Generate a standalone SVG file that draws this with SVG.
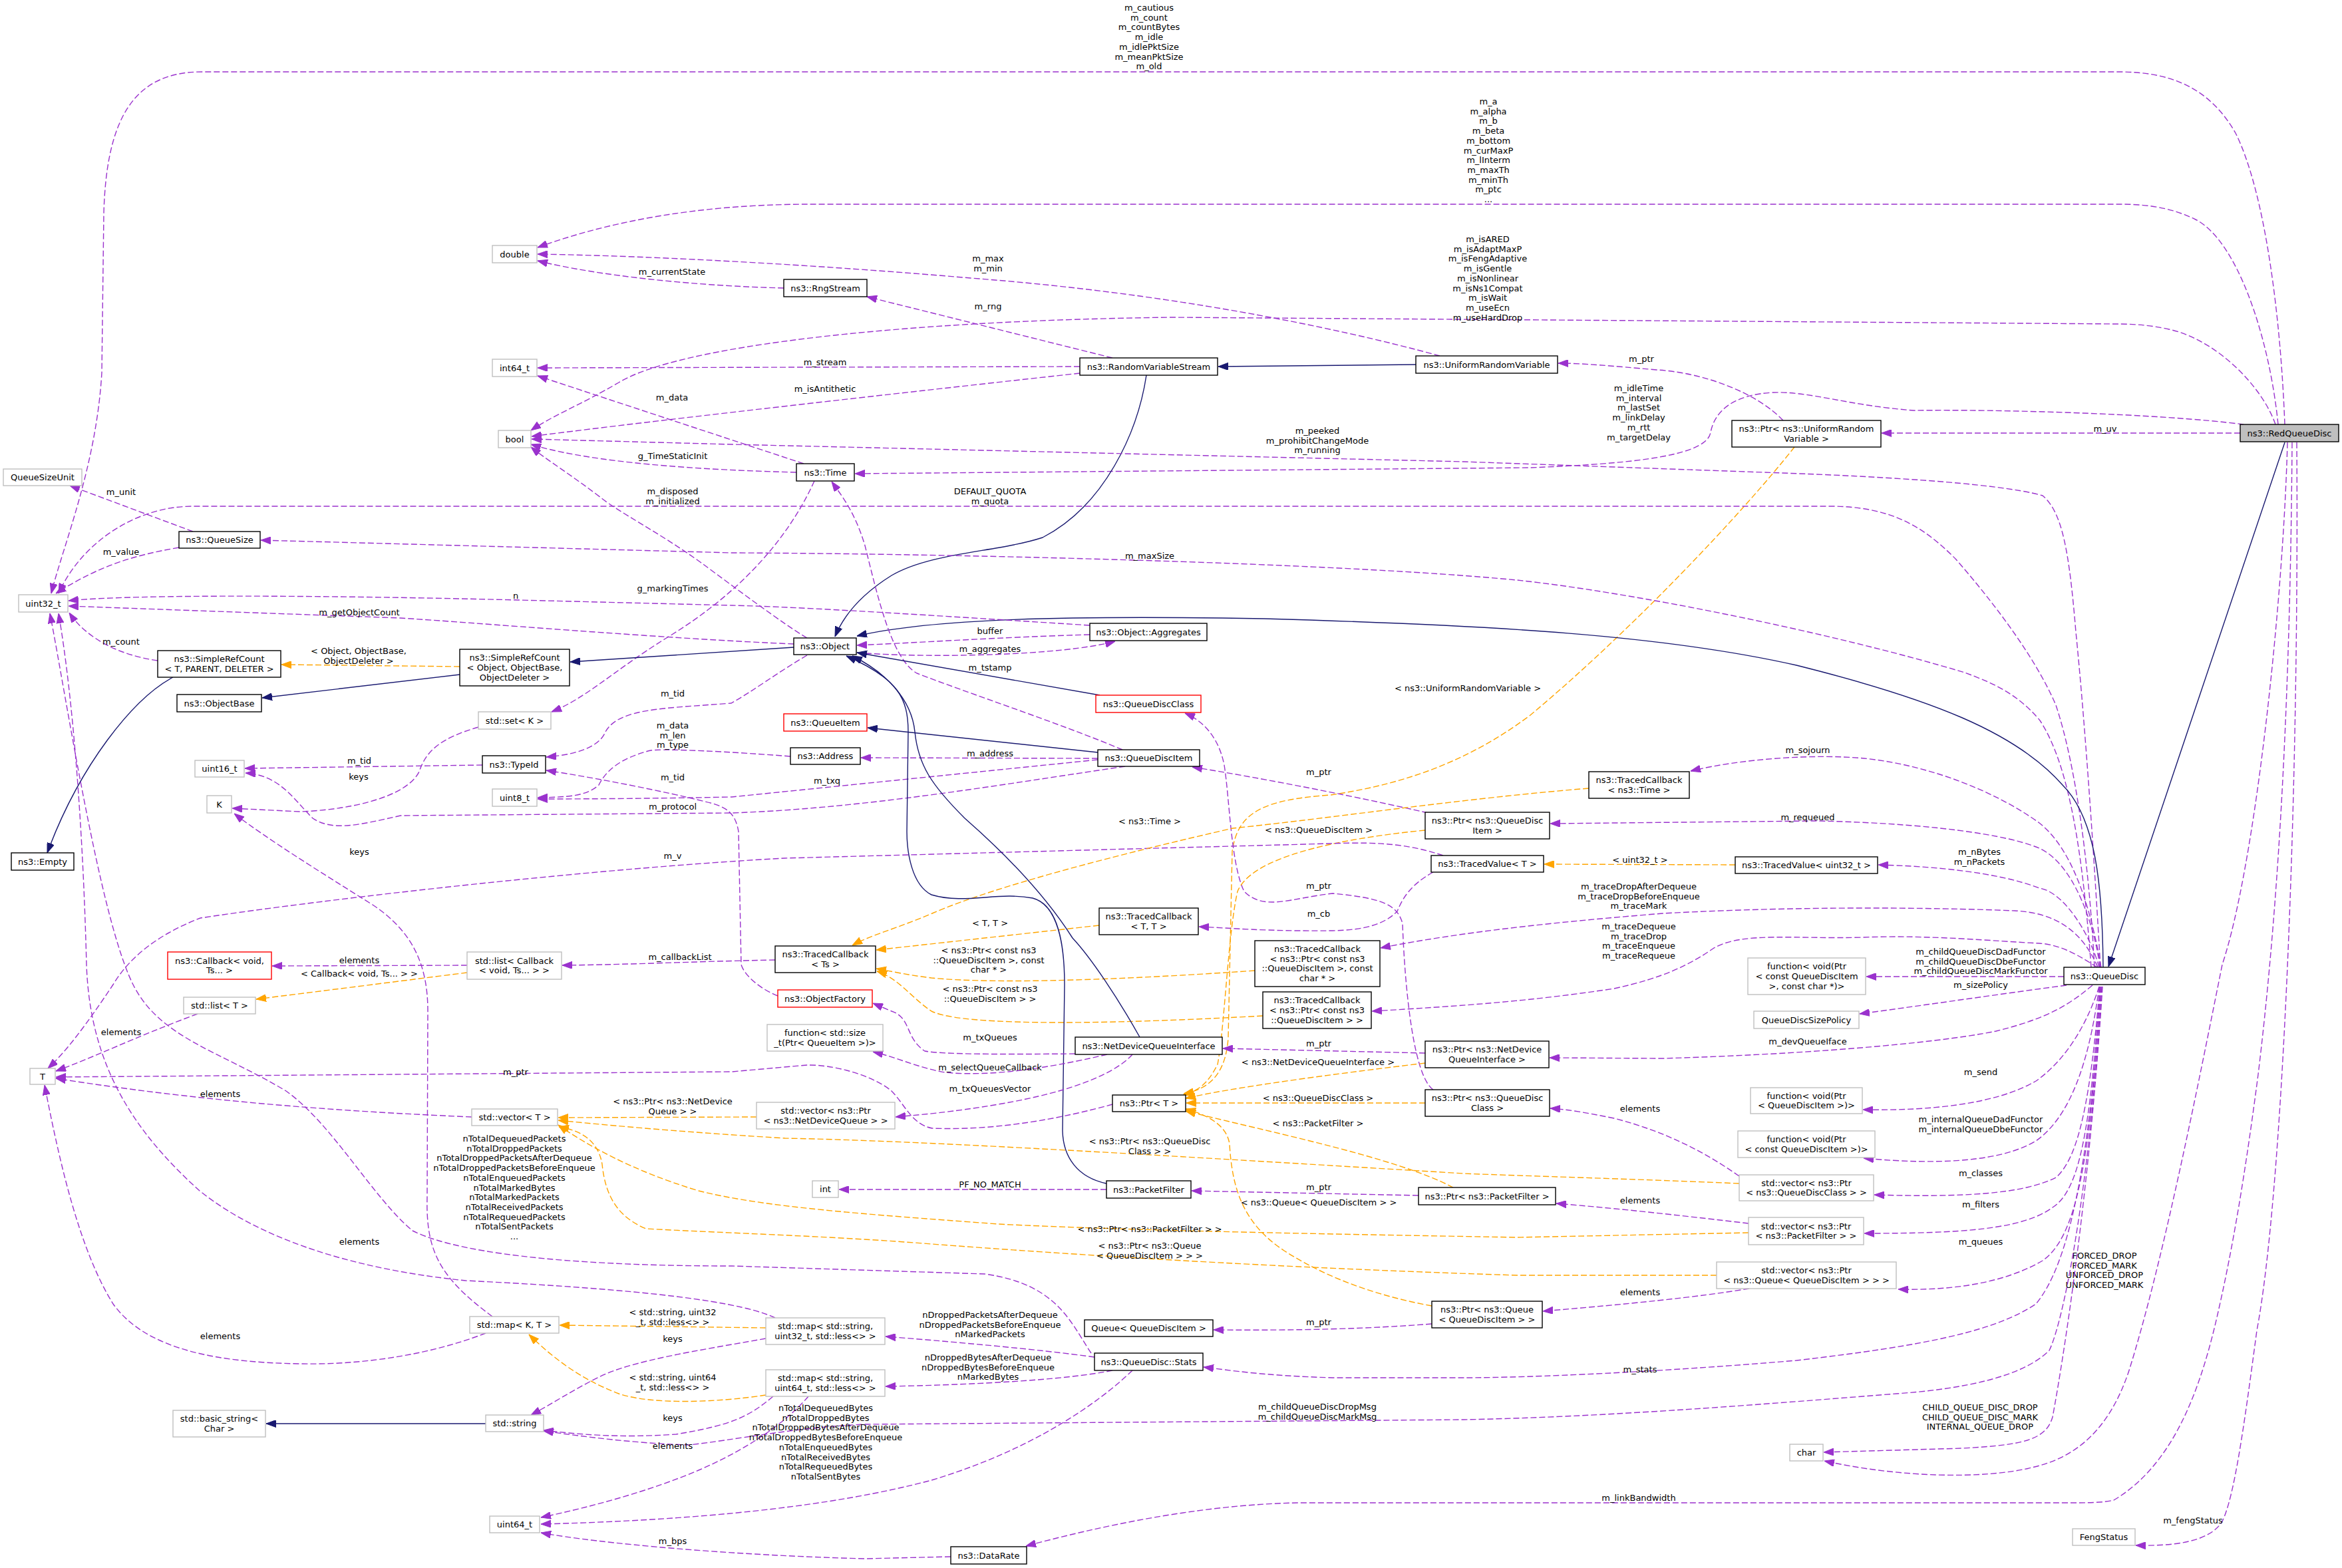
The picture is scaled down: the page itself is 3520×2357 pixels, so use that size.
<svg xmlns="http://www.w3.org/2000/svg" width="3520" height="2357" viewBox="0 0 3520 2357">
<style>
text{font-family:"DejaVu Sans","Liberation Sans",sans-serif;font-size:13px;text-anchor:middle;fill:#000}
.node rect{fill:#fff;stroke-width:1.4}
.nb rect{stroke:#000}
.ng rect{stroke:#bfbfbf}
.nr rect{stroke:#f00}
.nh rect{fill:#bfbfbf;stroke:#000}
#edges path{fill:none;stroke-width:1.4}
#edges .p{stroke:#9a32cd;stroke-dasharray:9,4;marker-end:url(#mp)}
#edges .o{stroke:#ffa500;stroke-dasharray:9,4;marker-end:url(#mo)}
#edges .s{stroke:#191970;marker-end:url(#ms)}
</style>
<defs>
<marker id="mp" viewBox="0 0 15 11" refX="15" refY="5.5" markerWidth="15" markerHeight="11" markerUnits="userSpaceOnUse" orient="auto"><path d="M0,0L15,5.5L0,11z" fill="#9a32cd" stroke="#9a32cd" stroke-dasharray="none"/></marker>
<marker id="mo" viewBox="0 0 15 11" refX="15" refY="5.5" markerWidth="15" markerHeight="11" markerUnits="userSpaceOnUse" orient="auto"><path d="M0,0L15,5.5L0,11z" fill="#ffa500" stroke="#ffa500" stroke-dasharray="none"/></marker>
<marker id="ms" viewBox="0 0 15 11" refX="15" refY="5.5" markerWidth="15" markerHeight="11" markerUnits="userSpaceOnUse" orient="auto"><path d="M0,0L15,5.5L0,11z" fill="#191970" stroke="#191970"/></marker>
</defs>
<rect x="0" y="0" width="3520" height="2357" fill="#fff"/>
<g id="edges">
<!-- RedQueueDisc edges -->
<path class="p" d="M3434,638 C3428,480 3405,290 3360,200 C3320,130 3260,108 3185,108 L303,108 C200,108 160,180 156,320 L153,560 C145,700 95,820 77,892"/>
<text x="1727" y="16">m_cautious</text><text x="1727" y="30.7">m_count</text><text x="1727" y="45.4">m_countBytes</text><text x="1727" y="60.1">m_idle</text><text x="1727" y="74.8">m_idlePktSize</text><text x="1727" y="89.5">m_meanPktSize</text><text x="1727" y="104.2">m_old</text>
<path class="p" d="M3424,638 C3410,500 3360,360 3300,330 C3260,310 3220,307 3185,307 L1218,307 C1100,307 950,320 808,372"/>
<text x="2237" y="157">m_a</text><text x="2237" y="171.7">m_alpha</text><text x="2237" y="186.4">m_b</text><text x="2237" y="201.1">m_beta</text><text x="2237" y="215.8">m_bottom</text><text x="2237" y="230.5">m_curMaxP</text><text x="2237" y="245.2">m_lInterm</text><text x="2237" y="259.9">m_maxTh</text><text x="2237" y="274.6">m_minTh</text><text x="2237" y="289.3">m_ptc</text><text x="2237" y="304">...</text>
<path class="p" d="M3420,638 C3400,580 3330,510 3260,495 C3230,488 3200,487 3185,487 L1760,477 C1350,482 1020,520 930,575 C870,610 830,625 798,647"/>
<text x="2236" y="364">m_isARED</text><text x="2236" y="378.7">m_isAdaptMaxP</text><text x="2236" y="393.4">m_isFengAdaptive</text><text x="2236" y="408.1">m_isGentle</text><text x="2236" y="422.8">m_isNonlinear</text><text x="2236" y="437.5">m_isNs1Compat</text><text x="2236" y="452.2">m_isWait</text><text x="2236" y="466.9">m_useEcn</text><text x="2236" y="481.6">m_useHardDrop</text>
<path class="p" d="M3367,651 L2828,651"/>
<text x="3164" y="649">m_uv</text>
<path class="p" d="M3372,638 C3250,622 3000,615 2877,617 C2780,610 2720,588 2665,590 C2605,593 2577,618 2571,650 C2565,690 2420,698 2300,703 L1285,712"/>
<text x="2463" y="588">m_idleTime</text><text x="2463" y="602.7">m_interval</text><text x="2463" y="617.4">m_lastSet</text><text x="2463" y="632.1">m_linkDelay</text><text x="2463" y="646.8">m_rtt</text><text x="2463" y="661.5">m_targetDelay</text>
<path class="s" d="M3434,665 L3169,1453"/>
<path class="p" d="M3438,665 C3432,900 3390,1300 3340,1450 C3300,1650 3250,1900 3200,2060 C3170,2150 3120,2190 3058,2205 C2980,2225 2850,2220 2742,2196"/>
<text x="3163" y="1892">FORCED_DROP</text><text x="3163" y="1906.7">FORCED_MARK</text><text x="3163" y="1921.4">UNFORCED_DROP</text><text x="3163" y="1936.1">UNFORCED_MARK</text>
<path class="p" d="M3445,665 C3442,1100 3420,1400 3394,1615 C3370,1800 3350,1900 3335,1967 C3310,2080 3270,2200 3177,2255 C3160,2259 3140,2259 3100,2259 L1950,2259 C1800,2262 1650,2295 1542,2324"/>
<text x="2463" y="2256">m_linkBandwidth</text>
<path class="p" d="M3452,665 C3456,1200 3430,1800 3392,2000 C3372,2150 3358,2250 3340,2287 C3320,2320 3260,2324 3210,2323"/>
<text x="3296" y="2290">m_fengStatus</text>
<!-- UniformRandomVariable -->
<path class="p" d="M2680,632 C2640,590 2560,560 2490,556 C2420,550 2380,546 2342,546"/>
<text x="2467" y="544">m_ptr</text>
<path class="o" d="M2697,672 C2620,770 2450,950 2300,1075 C2200,1150 2100,1180 2000,1195 C1900,1202 1860,1220 1852,1280 L1846,1560 C1842,1620 1812,1638 1779,1644"/>
<text x="2206" y="1039">&lt; ns3::UniformRandomVariable &gt;</text>
<path class="s" d="M2128,548 L1831,551"/>
<path class="p" d="M2164,535 C2000,490 1750,440 1459,418 C1250,400 1000,385 808,382"/>
<text x="1485" y="393">m_max</text><text x="1485" y="407.7">m_min</text>
<path class="p" d="M1178,433 C1050,430 900,415 808,392"/>
<text x="1010" y="413">m_currentState</text>
<path class="p" d="M1672,538 L1303,446"/>
<text x="1485" y="465">m_rng</text>
<path class="p" d="M1623,551 L808,553"/>
<text x="1240" y="549">m_stream</text>
<path class="p" d="M1623,561 C1450,580 1000,630 799,656"/>
<text x="1240" y="589">m_isAntithetic</text>
<path class="s" d="M1723,564 C1710,650 1660,760 1567,808 C1500,830 1400,830 1340,865 C1300,890 1270,920 1255,957"/>
<!-- Time -->
<path class="p" d="M1208,697 L808,565"/>
<text x="1010" y="602">m_data</text>
<path class="p" d="M1197,710 C1000,705 870,690 798,668"/>
<text x="1011" y="690">g_TimeStaticInit</text>
<path class="p" d="M1224,723 C1180,820 1100,900 1000,960 C920,1010 880,1050 829,1070"/>
<text x="1011" y="889">g_markingTimes</text>
<!-- QueueDisc top -->
<path class="p" d="M3148,1454 C3140,1300 3120,1150 3090,1060 C3060,990 3000,910 2940,841 C2890,790 2840,761 2750,761 L290,761 C200,761 120,820 88,892"/>
<text x="1488" y="743">DEFAULT_QUOTA</text><text x="1488" y="757.7">m_quota</text>
<path class="p" d="M3157,1454 C3148,1300 3135,1100 3120,950 C3110,830 3100,770 3070,745 C3000,725 2800,715 2651,710 L2200,694 L1100,668 L799,660"/>
<text x="1980" y="652">m_peeked</text><text x="1980" y="666.7">m_prohibitChangeMode</text><text x="1980" y="681.4">m_running</text>
<path class="p" d="M3143,1454 C3130,1280 3110,1150 3066,1083 C3030,1040 2990,1025 2953,1011 C2750,950 2450,890 2280,872 C2000,845 1400,832 1100,831 L392,812"/>
<text x="1728" y="840">m_maxSize</text>
<path class="s" d="M3161,1454 C3160,1330 3150,1230 3100,1180 C3030,1100 2900,1050 2700,1000 C2500,955 2250,940 1900,930 C1600,925 1400,930 1288,956"/>
<path class="p" d="M3158,1454 C3145,1380 3120,1280 3065,1237 C3000,1190 2900,1150 2802,1140 C2730,1133 2620,1140 2541,1159"/>
<text x="2717" y="1132">m_sojourn</text>
<path class="p" d="M3156,1454 C3150,1400 3120,1300 3065,1275 C3000,1248 2850,1236 2727,1234 L2330,1238"/>
<text x="2717" y="1233">m_requeued</text>
<path class="p" d="M3155,1454 C3140,1400 3100,1340 3065,1335 C3000,1310 2900,1302 2823,1300"/>
<text x="2975" y="1285">m_nBytes</text><text x="2975" y="1299.7">m_nPackets</text>
<path class="p" d="M3153,1454 C3130,1400 3090,1372 3028,1369 C2900,1364 2700,1362 2500,1373 C2350,1385 2200,1400 2075,1425"/>
<text x="2463" y="1337">m_traceDropAfterDequeue</text><text x="2463" y="1351.7">m_traceDropBeforeEnqueue</text><text x="2463" y="1366.4">m_traceMark</text>
<path class="p" d="M3152,1454 C3130,1440 3100,1420 3065,1418 C3000,1415 2900,1405 2800,1409 C2700,1412 2620,1400 2576,1425 C2540,1450 2500,1470 2426,1486 C2300,1505 2200,1512 2062,1520"/>
<text x="2463" y="1397">m_traceDequeue</text><text x="2463" y="1411.7">m_traceDrop</text><text x="2463" y="1426.4">m_traceEnqueue</text><text x="2463" y="1441.1">m_traceRequeue</text>
<path class="p" d="M3102,1468 L2805,1468"/>
<text x="2977" y="1435">m_childQueueDiscDadFunctor</text><text x="2977" y="1449.7">m_childQueueDiscDbeFunctor</text><text x="2977" y="1464.4">m_childQueueDiscMarkFunctor</text>
<path class="p" d="M3106,1481 C3000,1495 2900,1510 2795,1524"/>
<text x="2977" y="1485">m_sizePolicy</text>
<path class="p" d="M3145,1481 C3110,1510 3080,1530 3000,1550 C2900,1570 2700,1585 2500,1591 L2329,1590"/>
<text x="2717" y="1570">m_devQueueIface</text>
<path class="p" d="M3155,1483 C3140,1530 3110,1590 3060,1625 C3000,1660 2900,1670 2800,1668"/>
<text x="2977" y="1616">m_send</text>
<path class="p" d="M3155,1483 C3140,1600 3110,1680 3060,1715 C3010,1745 2920,1752 2801,1741"/>
<text x="2977" y="1687">m_internalQueueDadFunctor</text><text x="2977" y="1701.7">m_internalQueueDbeFunctor</text>
<path class="p" d="M3156,1483 C3142,1650 3125,1740 3090,1770 C3040,1795 2950,1800 2817,1796"/>
<text x="2977" y="1768">m_classes</text>
<path class="p" d="M3156,1483 C3142,1700 3125,1790 3085,1815 C3040,1848 2950,1854 2802,1854"/>
<text x="2977" y="1815">m_filters</text>
<path class="p" d="M3157,1483 C3142,1750 3120,1860 3070,1895 C3010,1930 2930,1940 2853,1938"/>
<text x="2977" y="1871">m_queues</text>
<path class="p" d="M3158,1483 C3140,1750 3110,1900 3060,1960 C3000,2000 2900,2022 2700,2045 C2500,2062 2300,2071 2200,2071 L2003,2071 C1900,2068 1850,2060 1809,2055"/>
<text x="2465" y="2063">m_stats</text>
<path class="p" d="M3159,1483 C3140,1800 3100,1990 3080,2030 C3040,2070 2950,2088 2850,2095 C2600,2115 2400,2130 2200,2134 L1300,2141 C1200,2145 1100,2165 1036,2172 C960,2170 880,2160 817,2151"/>
<text x="1980" y="2119">m_childQueueDiscDropMsg</text><text x="1980" y="2133.7">m_childQueueDiscMarkMsg</text>
<path class="p" d="M3160,1483 C3140,1800 3100,2050 3085,2130 C3075,2165 3040,2172 2950,2177 L2741,2183"/>
<text x="2976" y="2120">CHILD_QUEUE_DISC_DROP</text><text x="2976" y="2134.7">CHILD_QUEUE_DISC_MARK</text><text x="2976" y="2149.4">INTERNAL_QUEUE_DROP</text>
<!-- Object -->
<path class="p" d="M1213,959 C1180,940 1100,880 1054,846 C990,800 930,770 903,748 C860,715 820,690 798,672"/>
<text x="1011" y="743">m_disposed</text><text x="1011" y="757.7">m_initialized</text>
<path class="p" d="M1193,968 C1000,960 700,935 602,929 L103,911"/>
<text x="540" y="925">m_getObjectCount</text>
<path class="p" d="M1288,981 C1400,990 1600,985 1676,964"/>
<text x="1488" y="980">m_aggregates</text>
<path class="p" d="M1638,954 C1500,958 1400,965 1288,970"/>
<text x="1488" y="953">buffer</text>
<path class="p" d="M1638,940 C1400,925 1200,912 1100,910 L780,902 C500,895 200,893 103,903"/>
<text x="775" y="900">n</text>
<path class="s" d="M1193,973 L857,995"/>
<path class="p" d="M1213,985 C1170,1010 1130,1040 1099,1057 C1000,1065 930,1064 910,1100 C900,1125 860,1135 821,1138"/>
<text x="1011" y="1047">m_tid</text>
<path class="o" d="M691,1002 L423,999"/>
<text x="539" y="983">&lt; Object, ObjectBase,</text><text x="539" y="997.7">ObjectDeleter &gt;</text>
<path class="s" d="M691,1014 L394,1049"/>
<path class="p" d="M237,993 C180,985 130,960 104,921"/>
<text x="182" y="969">m_count</text>
<path class="s" d="M260,1018 C200,1050 120,1150 71,1282"/>
<path class="p" d="M290,799 L105,730"/>
<text x="182" y="744">m_unit</text>
<path class="p" d="M269,823 C200,835 150,850 84,892"/>
<text x="182" y="834">m_value</text>
<path class="p" d="M719,1093 C660,1110 640,1130 630,1160 C610,1200 520,1218 450,1220 L349,1215"/>
<text x="539" y="1172">keys</text>
<path class="p" d="M725,1150 L368,1155"/>
<text x="540" y="1148">m_tid</text>
<!-- QueueDiscItem / Address -->
<path class="p" d="M1188,1137 C1100,1130 1000,1125 978,1128 C930,1140 910,1160 900,1180 C880,1198 850,1198 808,1199"/>
<text x="1011" y="1095">m_data</text><text x="1011" y="1109.7">m_len</text><text x="1011" y="1124.4">m_type</text>
<path class="p" d="M1650,1142 L1100,1198 C1000,1200 900,1201 808,1201"/>
<text x="1243" y="1178">m_txq</text>
<path class="p" d="M1691,1152 C1500,1180 1300,1215 1100,1222 L602,1226 C540,1240 500,1250 470,1230 C440,1200 420,1165 369,1162"/>
<text x="1011" y="1217">m_protocol</text>
<path class="p" d="M1650,1140 L1294,1139"/>
<text x="1488" y="1137">m_address</text>
<path class="s" d="M1650,1131 L1304,1094"/>
<path class="p" d="M1687,1127 C1600,1090 1450,1040 1378,1012 C1340,990 1320,900 1300,820 C1285,770 1265,745 1250,724"/>
<text x="1488" y="1008">m_tstamp</text>
<path class="s" d="M1653,1045 L1288,981"/>
<path class="p" d="M2154,1638 C2120,1614 2110,1450 2108,1388 C2100,1360 2078,1350 2003,1343 C1940,1350 1900,1370 1870,1340 C1850,1300 1848,1200 1840,1150 C1830,1100 1800,1080 1781,1072"/>
<text x="1982" y="1336">m_ptr</text>
<path class="p" d="M2146,1222 C2050,1200 1900,1170 1792,1153"/>
<text x="1982" y="1165">m_ptr</text>
<path class="o" d="M2142,1248 C2000,1262 1880,1290 1860,1340 C1846,1400 1840,1550 1830,1600 C1815,1630 1800,1640 1778,1646"/>
<text x="1982" y="1252">&lt; ns3::QueueDiscItem &gt;</text>
<!-- TracedValue -->
<path class="p" d="M2169,1286 C2120,1270 2080,1265 2000,1268 L1180,1290 C900,1305 500,1350 301,1380 C250,1400 200,1430 170,1480 C130,1540 100,1580 72,1606"/>
<text x="1011" y="1291">m_v</text>
<path class="p" d="M2154,1311 C2120,1330 2108,1350 2100,1370 C2080,1390 2050,1398 2003,1399 C1900,1400 1850,1395 1802,1393"/>
<text x="1982" y="1378">m_cb</text>
<path class="o" d="M2608,1300 L2321,1299"/>
<text x="2465" y="1297">&lt; uint32_t &gt;</text>
<!-- TracedCallback -->
<path class="o" d="M2388,1185 C2200,1200 2000,1230 1853,1245 C1700,1280 1500,1330 1401,1373 C1350,1395 1310,1405 1281,1421"/>
<text x="1728" y="1239">&lt; ns3::Time &gt;</text>
<path class="o" d="M1652,1391 L1317,1428"/>
<text x="1488" y="1392">&lt; T, T &gt;</text>
<path class="o" d="M1886,1459 C1700,1472 1500,1480 1400,1470 C1360,1465 1340,1460 1317,1456"/>
<text x="1486" y="1433">&lt; ns3::Ptr&lt; const ns3</text><text x="1486" y="1447.7">::QueueDiscItem &gt;, const</text><text x="1486" y="1462.4">char * &gt;</text>
<path class="o" d="M1898,1527 C1700,1538 1450,1545 1400,1520 C1370,1500 1350,1470 1318,1460"/>
<text x="1488" y="1491">&lt; ns3::Ptr&lt; const ns3</text><text x="1488" y="1505.7">::QueueDiscItem &gt; &gt;</text>
<path class="p" d="M1165,1443 C1050,1445 950,1450 845,1451"/>
<text x="1022" y="1443">m_callbackList</text>
<path class="p" d="M702,1451 L409,1452"/>
<text x="540" y="1448">elements</text>
<path class="o" d="M702,1462 C600,1475 480,1490 385,1502"/>
<text x="540" y="1468">&lt; Callback&lt; void, Ts... &gt; &gt;</text>
<path class="p" d="M297,1524 C200,1560 140,1590 84,1610"/>
<text x="182" y="1556">elements</text>
<path class="p" d="M709,1679 C500,1670 300,1655 84,1621"/>
<text x="331" y="1649">elements</text>
<path class="p" d="M1672,1660 C1600,1680 1500,1700 1401,1696 C1370,1690 1360,1660 1340,1640 C1310,1615 1250,1600 1213,1601 L1100,1611 L84,1619"/>
<text x="775" y="1616">m_ptr</text>
<!-- NetDeviceQueueInterface / PacketFilter -->
<path class="s" d="M1713,1559 C1680,1500 1640,1440 1612,1410 C1580,1360 1530,1300 1450,1230 C1400,1180 1380,1150 1375,1100 C1370,1050 1330,1010 1281,986"/>
<path class="s" d="M1663,1779 C1620,1770 1598,1740 1597,1700 L1600,1480 C1600,1420 1590,1360 1552,1350 C1500,1340 1450,1360 1400,1345 C1370,1330 1363,1280 1363,1250 L1365,1100 C1365,1050 1350,1020 1272,986"/>
<path class="p" d="M1616,1584 C1500,1585 1420,1585 1390,1580 C1360,1560 1370,1530 1340,1520 L1312,1508"/>
<text x="1488" y="1564">m_txQueues</text>
<path class="p" d="M1664,1585 C1600,1600 1500,1620 1420,1612 C1380,1605 1350,1590 1312,1581"/>
<text x="1488" y="1609">m_selectQueueCallback</text>
<path class="p" d="M1702,1585 C1680,1610 1620,1640 1500,1660 C1430,1672 1380,1676 1346,1679"/>
<text x="1488" y="1641">m_txQueuesVector</text>
<path class="p" d="M1169,1497 C1150,1490 1120,1470 1114,1450 L1110,1250 C1105,1220 1090,1212 1060,1205 C1000,1190 900,1170 821,1158"/>
<text x="1011" y="1173">m_tid</text>
<path class="p" d="M2142,1583 L1838,1576"/>
<text x="1982" y="1573">m_ptr</text>
<path class="o" d="M2142,1598 C2000,1615 1850,1635 1782,1651"/>
<text x="1981" y="1601">&lt; ns3::NetDeviceQueueInterface &gt;</text>
<path class="o" d="M2142,1658 L1783,1658"/>
<text x="1981" y="1655">&lt; ns3::QueueDiscClass &gt;</text>
<path class="o" d="M1137,1679 L839,1680"/>
<text x="1011" y="1660">&lt; ns3::Ptr&lt; ns3::NetDevice</text><text x="1011" y="1674.7">Queue &gt; &gt;</text>
<path class="o" d="M2614,1779 C2450,1772 2300,1768 2200,1764 C1800,1740 1400,1715 1180,1711 C1000,1700 900,1690 839,1684"/>
<text x="1728" y="1720">&lt; ns3::Ptr&lt; ns3::QueueDisc</text><text x="1728" y="1734.7">Class &gt; &gt;</text>
<path class="p" d="M2614,1768 C2560,1730 2500,1700 2426,1681 C2380,1672 2360,1668 2330,1666"/>
<text x="2465" y="1671">elements</text>
<path class="o" d="M2628,1853 L2280,1860 C2000,1855 1700,1850 1500,1840 C1300,1825 1150,1815 1050,1790 C950,1760 880,1720 839,1691"/>
<text x="1728" y="1852">&lt; ns3::Ptr&lt; ns3::PacketFilter &gt; &gt;</text>
<path class="p" d="M2628,1839 C2550,1830 2450,1818 2339,1809"/>
<text x="2465" y="1809">elements</text>
<path class="o" d="M2580,1917 L2280,1917 C1900,1905 1600,1885 1400,1870 C1250,1858 1100,1854 971,1847 C930,1830 910,1800 905,1750 C900,1720 880,1700 840,1694"/>
<text x="1728" y="1877">&lt; ns3::Ptr&lt; ns3::Queue</text><text x="1728" y="1891.7">&lt; QueueDiscItem &gt; &gt; &gt;</text>
<path class="p" d="M2629,1937 C2550,1950 2450,1960 2319,1971"/>
<text x="2465" y="1947">elements</text>
<path class="p" d="M2152,1990 C2050,1998 1950,2000 1824,1999"/>
<text x="1982" y="1992">m_ptr</text>
<path class="o" d="M2152,1963 C2080,1950 2000,1925 1930,1880 C1870,1840 1852,1790 1848,1720 C1844,1690 1812,1675 1782,1667"/>
<text x="1982" y="1812">&lt; ns3::Queue&lt; QueueDiscItem &gt; &gt;</text>
<path class="p" d="M2132,1797 L1791,1790"/>
<text x="1982" y="1789">m_ptr</text>
<path class="o" d="M2184,1785 C2100,1740 1900,1700 1782,1670"/>
<text x="1981" y="1693">&lt; ns3::PacketFilter &gt;</text>
<path class="p" d="M1663,1788 L1261,1788"/>
<text x="1488" y="1785">PF_NO_MATCH</text>
<!-- Stats and maps -->
<path class="p" d="M1640,2034 C1610,1990 1590,1930 1480,1915 L1100,1903 C900,1903 700,1890 620,1850 C560,1800 500,1690 430,1640 C330,1580 240,1560 200,1480 C150,1380 100,1050 75,922"/>
<text x="773" y="1716">nTotalDequeuedPackets</text><text x="773" y="1730.7">nTotalDroppedPackets</text><text x="773" y="1745.4">nTotalDroppedPacketsAfterDequeue</text><text x="773" y="1760.1">nTotalDroppedPacketsBeforeEnqueue</text><text x="773" y="1774.8">nTotalEnqueuedPackets</text><text x="773" y="1789.5">nTotalMarkedBytes</text><text x="773" y="1804.2">nTotalMarkedPackets</text><text x="773" y="1818.9">nTotalReceivedPackets</text><text x="773" y="1833.6">nTotalRequeuedPackets</text><text x="773" y="1848.3">nTotalSentPackets</text><text x="773" y="1863">...</text>
<path class="p" d="M1165,1981 C1100,1950 900,1935 700,1925 C550,1910 400,1870 300,1790 C200,1700 135,1600 130,1450 C125,1250 110,1050 88,922"/>
<text x="540" y="1871">elements</text>
<path class="p" d="M740,1979 C660,1920 640,1880 642,1800 L643,1520 C643,1450 620,1400 560,1360 C480,1310 400,1260 352,1223"/>
<text x="540" y="1285">keys</text>
<path class="p" d="M730,2004 C650,2035 550,2052 450,2050 C330,2048 220,2030 170,1960 C120,1880 90,1750 67,1631"/>
<text x="331" y="2013">elements</text>
<path class="o" d="M1151,1996 L841,1992"/>
<text x="1011" y="1977">&lt; std::string, uint32</text><text x="1011" y="1991.7">_t, std::less&lt;&gt; &gt;</text>
<path class="p" d="M1151,2012 C1050,2030 950,2045 900,2070 C860,2090 830,2110 798,2127"/>
<text x="1011" y="2017">keys</text>
<path class="o" d="M1151,2097 C1080,2108 980,2112 930,2095 C870,2072 830,2040 795,2006"/>
<text x="1011" y="2075">&lt; std::string, uint64</text><text x="1011" y="2089.7">_t, std::less&lt;&gt; &gt;</text>
<path class="p" d="M1162,2099 C1125,2130 1100,2142 1016,2156 C930,2162 870,2156 817,2150"/>
<text x="1011" y="2136">keys</text>
<path class="p" d="M1215,2099 C1180,2140 1120,2180 1050,2210 C980,2240 890,2265 813,2281"/>
<text x="1011" y="2178">elements</text>
<path class="p" d="M1645,2040 C1560,2028 1420,2016 1331,2009"/>
<text x="1488" y="1981">nDroppedPacketsAfterDequeue</text><text x="1488" y="1995.7">nDroppedPacketsBeforeEnqueue</text><text x="1488" y="2010.4">nMarkedPackets</text>
<path class="p" d="M1672,2060 C1600,2075 1450,2082 1331,2084"/>
<text x="1485" y="2045">nDroppedBytesAfterDequeue</text><text x="1485" y="2059.7">nDroppedBytesBeforeEnqueue</text><text x="1485" y="2074.4">nMarkedBytes</text>
<path class="p" d="M1702,2060 C1650,2110 1550,2180 1400,2225 C1250,2265 1050,2285 813,2291"/>
<text x="1241" y="2121">nTotalDequeuedBytes</text><text x="1241" y="2135.7">nTotalDroppedBytes</text><text x="1241" y="2150.4">nTotalDroppedBytesAfterDequeue</text><text x="1241" y="2165.1">nTotalDroppedBytesBeforeEnqueue</text><text x="1241" y="2179.8">nTotalEnqueuedBytes</text><text x="1241" y="2194.5">nTotalReceivedBytes</text><text x="1241" y="2209.2">nTotalRequeuedBytes</text><text x="1241" y="2223.9">nTotalSentBytes</text>
<path class="p" d="M1429,2340 L1300,2343 C1100,2338 900,2320 813,2304"/>
<text x="1011" y="2321">m_bps</text>
<path class="s" d="M730,2140 L400,2140"/>
</g>
<g id="n_RedQueueDisc" class="node nh"><rect x="3367" y="638" width="148" height="26"/><text x="3441" y="655.5">ns3::RedQueueDisc</text></g>
<g id="n_QueueDisc" class="node nb"><rect x="3102" y="1454" width="122" height="26"/><text x="3163" y="1471.5">ns3::QueueDisc</text></g>
<g id="n_uint32" class="node ng"><rect x="28" y="894" width="74" height="26"/><text x="65" y="911.5">uint32_t</text></g>
<g id="n_double" class="node ng"><rect x="740" y="369" width="67" height="26"/><text x="773.5" y="386.5">double</text></g>
<g id="n_RngStream" class="node nb"><rect x="1178" y="420" width="125" height="26"/><text x="1240.5" y="437.5">ns3::RngStream</text></g>
<g id="n_int64" class="node ng"><rect x="740" y="540" width="67" height="26"/><text x="773.5" y="557.5">int64_t</text></g>
<g id="n_RVS" class="node nb"><rect x="1623" y="538" width="207" height="26"/><text x="1726.5" y="555.5">ns3::RandomVariableStream</text></g>
<g id="n_URV" class="node nb"><rect x="2128" y="535" width="213" height="26"/><text x="2234.5" y="552.5">ns3::UniformRandomVariable</text></g>
<g id="n_bool" class="node ng"><rect x="749" y="647" width="49" height="26"/><text x="773.5" y="664.5">bool</text></g>
<g id="n_Time" class="node nb"><rect x="1197" y="697" width="87" height="26"/><text x="1240.5" y="714.5">ns3::Time</text></g>
<g id="n_QueueSizeUnit" class="node ng"><rect x="5" y="705" width="118" height="25"/><text x="64" y="722">QueueSizeUnit</text></g>
<g id="n_QueueSize" class="node nb"><rect x="269" y="799" width="122" height="25"/><text x="330" y="816">ns3::QueueSize</text></g>
<g id="n_PtrURV" class="node nb"><rect x="2603" y="632" width="224" height="40"/><text x="2715" y="649.2">ns3::Ptr&lt; ns3::UniformRandom</text><text x="2715" y="663.9">Variable &gt;</text></g>
<g id="n_SRC_T" class="node nb"><rect x="237" y="978" width="185" height="40"/><text x="329.5" y="995.2">ns3::SimpleRefCount</text><text x="329.5" y="1009.9">&lt; T, PARENT, DELETER &gt;</text></g>
<g id="n_SRC_Obj" class="node nb"><rect x="691" y="976" width="165" height="55"/><text x="773.5" y="993.3">ns3::SimpleRefCount</text><text x="773.5" y="1008">&lt; Object, ObjectBase,</text><text x="773.5" y="1022.7">ObjectDeleter &gt;</text></g>
<g id="n_ObjectBase" class="node nb"><rect x="266" y="1044" width="127" height="26"/><text x="329.5" y="1061.5">ns3::ObjectBase</text></g>
<g id="n_Object" class="node nb"><rect x="1193" y="959" width="94" height="25"/><text x="1240" y="976">ns3::Object</text></g>
<g id="n_Aggregates" class="node nb"><rect x="1638" y="937" width="176" height="26"/><text x="1726" y="954.5">ns3::Object::Aggregates</text></g>
<g id="n_setK" class="node ng"><rect x="719" y="1070" width="109" height="26"/><text x="773.5" y="1087.5">std::set&lt; K &gt;</text></g>
<g id="n_uint16" class="node ng"><rect x="293" y="1143" width="74" height="25"/><text x="330" y="1160">uint16_t</text></g>
<g id="n_TypeId" class="node nb"><rect x="725" y="1136" width="95" height="26"/><text x="772.5" y="1153.5">ns3::TypeId</text></g>
<g id="n_uint8" class="node ng"><rect x="740" y="1186" width="67" height="26"/><text x="773.5" y="1203.5">uint8_t</text></g>
<g id="n_K" class="node ng"><rect x="311" y="1196" width="37" height="26"/><text x="329.5" y="1213.5">K</text></g>
<g id="n_Empty" class="node nb"><rect x="17" y="1282" width="94" height="26"/><text x="64" y="1299.5">ns3::Empty</text></g>
<g id="n_QueueDiscClass" class="node nr"><rect x="1647" y="1045" width="158" height="26"/><text x="1726" y="1062.5">ns3::QueueDiscClass</text></g>
<g id="n_QueueItem" class="node nr"><rect x="1178" y="1073" width="125" height="26"/><text x="1240.5" y="1090.5">ns3::QueueItem</text></g>
<g id="n_Address" class="node nb"><rect x="1188" y="1124" width="105" height="25"/><text x="1240.5" y="1141">ns3::Address</text></g>
<g id="n_QueueDiscItem" class="node nb"><rect x="1650" y="1127" width="153" height="25"/><text x="1726.5" y="1144">ns3::QueueDiscItem</text></g>
<g id="n_TC_Time" class="node nb"><rect x="2388" y="1160" width="151" height="40"/><text x="2463.5" y="1177.2">ns3::TracedCallback</text><text x="2463.5" y="1191.9">&lt; ns3::Time &gt;</text></g>
<g id="n_PtrQDI" class="node nb"><rect x="2142" y="1221" width="187" height="40"/><text x="2235.5" y="1238.2">ns3::Ptr&lt; ns3::QueueDisc</text><text x="2235.5" y="1252.9">Item &gt;</text></g>
<g id="n_TV_T" class="node nb"><rect x="2151" y="1286" width="169" height="25"/><text x="2235.5" y="1303">ns3::TracedValue&lt; T &gt;</text></g>
<g id="n_TV_u32" class="node nb"><rect x="2608" y="1288" width="214" height="25"/><text x="2715" y="1305">ns3::TracedValue&lt; uint32_t &gt;</text></g>
<g id="n_TC_TT" class="node nb"><rect x="1652" y="1365" width="149" height="40"/><text x="1726.5" y="1382.2">ns3::TracedCallback</text><text x="1726.5" y="1396.9">&lt; T, T &gt;</text></g>
<g id="n_TC_Ts" class="node nb"><rect x="1165" y="1422" width="151" height="40"/><text x="1240.5" y="1439.2">ns3::TracedCallback</text><text x="1240.5" y="1453.9">&lt; Ts &gt;</text></g>
<g id="n_TC_cc" class="node nb"><rect x="1886" y="1414" width="188" height="69"/><text x="1980" y="1431">ns3::TracedCallback</text><text x="1980" y="1445.7">&lt; ns3::Ptr&lt; const ns3</text><text x="1980" y="1460.4">::QueueDiscItem &gt;, const</text><text x="1980" y="1475.1">char * &gt;</text></g>
<g id="n_TC_p" class="node nb"><rect x="1898" y="1491" width="163" height="55"/><text x="1979.5" y="1508.3">ns3::TracedCallback</text><text x="1979.5" y="1523">&lt; ns3::Ptr&lt; const ns3</text><text x="1979.5" y="1537.7">::QueueDiscItem &gt; &gt;</text></g>
<g id="n_Callback" class="node nr"><rect x="252" y="1431" width="156" height="41"/><text x="330" y="1448.7">ns3::Callback&lt; void,</text><text x="330" y="1463.4">Ts... &gt;</text></g>
<g id="n_listCb" class="node ng"><rect x="702" y="1431" width="142" height="41"/><text x="773" y="1448.7">std::list&lt; Callback</text><text x="773" y="1463.4">&lt; void, Ts... &gt; &gt;</text></g>
<g id="n_ObjectFactory" class="node nr"><rect x="1169" y="1488" width="142" height="26"/><text x="1240" y="1505.5">ns3::ObjectFactory</text></g>
<g id="n_listT" class="node ng"><rect x="276" y="1499" width="108" height="25"/><text x="330" y="1516">std::list&lt; T &gt;</text></g>
<g id="n_fnSize" class="node ng"><rect x="1153" y="1540" width="174" height="40"/><text x="1240" y="1557.2">function&lt; std::size</text><text x="1240" y="1571.9">_t(Ptr&lt; QueueItem &gt;)&gt;</text></g>
<g id="n_NDQI" class="node nb"><rect x="1616" y="1559" width="221" height="26"/><text x="1726.5" y="1576.5">ns3::NetDeviceQueueInterface</text></g>
<g id="n_PtrNDQI" class="node nb"><rect x="2142" y="1565" width="186" height="40"/><text x="2235" y="1582.2">ns3::Ptr&lt; ns3::NetDevice</text><text x="2235" y="1596.9">QueueInterface &gt;</text></g>
<g id="n_T" class="node ng"><rect x="45" y="1606" width="38" height="24"/><text x="64" y="1622.5">T</text></g>
<g id="n_PtrT" class="node nb"><rect x="1672" y="1646" width="110" height="25"/><text x="1727" y="1663">ns3::Ptr&lt; T &gt;</text></g>
<g id="n_PtrQDC" class="node nb"><rect x="2142" y="1638" width="187" height="40"/><text x="2235.5" y="1655.2">ns3::Ptr&lt; ns3::QueueDisc</text><text x="2235.5" y="1669.9">Class &gt;</text></g>
<g id="n_vecNDQ" class="node ng"><rect x="1137" y="1657" width="208" height="40"/><text x="1241" y="1674.2">std::vector&lt; ns3::Ptr</text><text x="1241" y="1688.9">&lt; ns3::NetDeviceQueue &gt; &gt;</text></g>
<g id="n_vecT" class="node ng"><rect x="709" y="1667" width="129" height="25"/><text x="773.5" y="1684">std::vector&lt; T &gt;</text></g>
<g id="n_fnCC" class="node ng"><rect x="2627" y="1440" width="177" height="55"/><text x="2715.5" y="1457.3">function&lt; void(Ptr</text><text x="2715.5" y="1472">&lt; const QueueDiscItem</text><text x="2715.5" y="1486.7">&gt;, const char *)&gt;</text></g>
<g id="n_QDSP" class="node ng"><rect x="2636" y="1520" width="158" height="26"/><text x="2715" y="1537.5">QueueDiscSizePolicy</text></g>
<g id="n_fnQDI" class="node ng"><rect x="2631" y="1635" width="168" height="39"/><text x="2715" y="1651.7">function&lt; void(Ptr</text><text x="2715" y="1666.4">&lt; QueueDiscItem &gt;)&gt;</text></g>
<g id="n_fnCQDI" class="node ng"><rect x="2612" y="1700" width="206" height="40"/><text x="2715" y="1717.2">function&lt; void(Ptr</text><text x="2715" y="1731.9">&lt; const QueueDiscItem &gt;)&gt;</text></g>
<g id="n_vecQDC" class="node ng"><rect x="2614" y="1766" width="202" height="39"/><text x="2715" y="1782.7">std::vector&lt; ns3::Ptr</text><text x="2715" y="1797.4">&lt; ns3::QueueDiscClass &gt; &gt;</text></g>
<g id="n_int" class="node ng"><rect x="1221" y="1775" width="39" height="25"/><text x="1240.5" y="1792">int</text></g>
<g id="n_PacketFilter" class="node nb"><rect x="1663" y="1775" width="127" height="26"/><text x="1726.5" y="1792.5">ns3::PacketFilter</text></g>
<g id="n_PtrPF" class="node nb"><rect x="2132" y="1785" width="206" height="26"/><text x="2235" y="1802.5">ns3::Ptr&lt; ns3::PacketFilter &gt;</text></g>
<g id="n_vecPF" class="node ng"><rect x="2628" y="1830" width="173" height="41"/><text x="2714.5" y="1847.7">std::vector&lt; ns3::Ptr</text><text x="2714.5" y="1862.4">&lt; ns3::PacketFilter &gt; &gt;</text></g>
<g id="n_vecQ" class="node ng"><rect x="2580" y="1897" width="270" height="40"/><text x="2715" y="1914.2">std::vector&lt; ns3::Ptr</text><text x="2715" y="1928.9">&lt; ns3::Queue&lt; QueueDiscItem &gt; &gt; &gt;</text></g>
<g id="n_PtrQ" class="node nb"><rect x="2152" y="1956" width="166" height="40"/><text x="2235" y="1973.2">ns3::Ptr&lt; ns3::Queue</text><text x="2235" y="1987.9">&lt; QueueDiscItem &gt; &gt;</text></g>
<g id="n_QueueQDI" class="node nb"><rect x="1630" y="1984" width="193" height="25"/><text x="1726.5" y="2001">Queue&lt; QueueDiscItem &gt;</text></g>
<g id="n_mapKT" class="node ng"><rect x="706" y="1979" width="134" height="25"/><text x="773" y="1996">std::map&lt; K, T &gt;</text></g>
<g id="n_map32" class="node ng"><rect x="1151" y="1981" width="179" height="40"/><text x="1240.5" y="1998.2">std::map&lt; std::string,</text><text x="1240.5" y="2012.9">uint32_t, std::less&lt;&gt; &gt;</text></g>
<g id="n_Stats" class="node nb"><rect x="1645" y="2034" width="163" height="26"/><text x="1726.5" y="2051.5">ns3::QueueDisc::Stats</text></g>
<g id="n_map64" class="node ng"><rect x="1151" y="2059" width="179" height="40"/><text x="1240.5" y="2076.2">std::map&lt; std::string,</text><text x="1240.5" y="2090.9">uint64_t, std::less&lt;&gt; &gt;</text></g>
<g id="n_basicString" class="node ng"><rect x="260" y="2120" width="139" height="40"/><text x="329.5" y="2137.2">std::basic_string&lt;</text><text x="329.5" y="2151.9">Char &gt;</text></g>
<g id="n_string" class="node ng"><rect x="730" y="2127" width="87" height="25"/><text x="773.5" y="2144">std::string</text></g>
<g id="n_char" class="node ng"><rect x="2690" y="2171" width="50" height="25"/><text x="2715" y="2188">char</text></g>
<g id="n_uint64" class="node ng"><rect x="736" y="2279" width="75" height="25"/><text x="773.5" y="2296">uint64_t</text></g>
<g id="n_DataRate" class="node nb"><rect x="1429" y="2325" width="114" height="26"/><text x="1486" y="2342.5">ns3::DataRate</text></g>
<g id="n_FengStatus" class="node ng"><rect x="3115" y="2298" width="94" height="25"/><text x="3162" y="2315">FengStatus</text></g>
</svg>
